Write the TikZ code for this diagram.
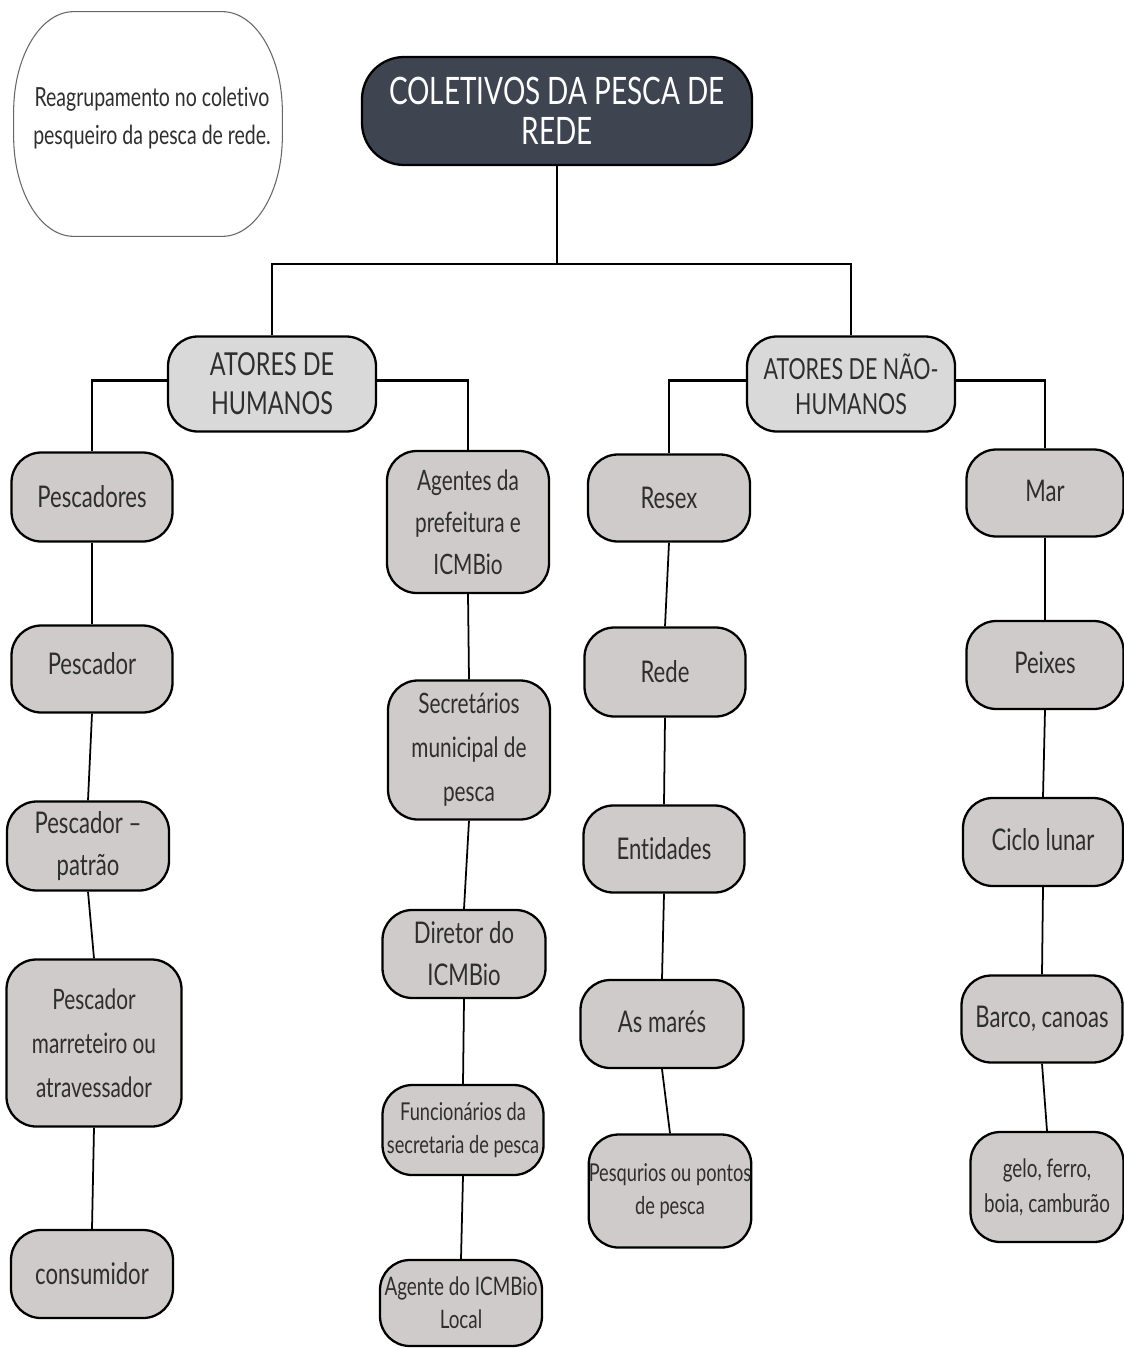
\documentclass[tikz,border=0pt]{standalone}
\usepackage{fontspec}
\setmainfont[FakeStretch=0.74, Ligatures=NoCommon]{Lato}
\usepackage{tikz}
\usetikzlibrary{positioning}

\definecolor{titlefill}{HTML}{3E4450}
\definecolor{actorfill}{HTML}{D9D9D9}
\definecolor{itemfill}{HTML}{CFCBCB}
\definecolor{itemtext}{HTML}{2E2E2E}

\tikzset{
    boxsize/.style 2 args={minimum width=#1*0.02cm, minimum height=#2*0.02cm},
    item/.style={draw, line width=1.3pt, fill=itemfill, text=itemtext, rounded corners=17pt,
        inner sep=0pt, align=center, font=\fontsize{17}{24}\selectfont},
    actor/.style={item, fill=actorfill, font=\fontsize{18}{22}\selectfont},
    small/.style={font=\fontsize{14}{19}\selectfont},
}

\begin{document}
\begin{tikzpicture}[x=0.02cm, y=-0.02cm]

\useasboundingbox (0,0) rectangle (1123,1348);

\node[boxsize={268}{224}] (note) at (148,124) {};
\path[draw=black!60, line width=0.6pt] ([xshift=1.2cm]note.north west) -- ([xshift=-1.2cm]note.north east)
    arc[start angle=90, end angle=0, x radius=1.2cm, y radius=2cm] -- ([yshift=2cm]note.south east)
    arc[start angle=0, end angle=-90, x radius=1.2cm, y radius=2cm] -- ([xshift=1.2cm]note.south west)
    arc[start angle=270, end angle=180, x radius=1.2cm, y radius=2cm] -- ([yshift=-2cm]note.north west)
    arc[start angle=180, end angle=90, x radius=1.2cm, y radius=2cm] -- cycle;
\node[align=center, text=itemtext, font=\fontsize{15}{22}\selectfont] (notetext) at (152,118)
    {Reagrupamento no coletivo\\pesqueiro da pesca de rede.};

\node[item, fill=titlefill, text=white, rounded corners=24pt, boxsize={390}{108},
    font=\fontsize{21.5}{23}\selectfont] (title) at (557,111) {COLETIVOS DA PESCA DE\\REDE};

\coordinate (bar) at (557,264);

\node[actor, boxsize={208}{95}] (hum) at (272,384) {ATORES DE\\HUMANOS};
\node[actor, boxsize={208}{95}, font=\fontsize{16.5}{20}\selectfont] (nhum) at (851,384) {ATORES DE NÃO-\\HUMANOS};

% atores humanos
\node[item, boxsize={161}{89}] (pescadores) at (92,497) {Pescadores};
\node[item, boxsize={161}{87}] (pescador) at (92,669) {\raisebox{6pt}{Pescador}};
\node[item, boxsize={162}{89}] (patrao) at (88,846) {Pescador --\\patrão};
\node[item, boxsize={175}{167}, font=\fontsize{16}{25}\selectfont] (marreteiro) at (94,1043) {Pescador\\marreteiro ou\\atravessador};
\node[item, boxsize={162}{88}] (consumidor) at (92,1274) {consumidor};

\node[item, boxsize={162}{142}, font=\fontsize{16}{24}\selectfont] (agentes) at (468,522) {Agentes da\\prefeitura e\\ICMBio};
\node[item, boxsize={162}{139}, font=\fontsize{16}{25}\selectfont] (secretarios) at (469,750) {Secretários\\municipal de\\pesca};
\node[item, boxsize={163}{88}] (diretor) at (464,954) {Diretor do\\ICMBio};
\node[item, small, boxsize={161}{90}] (funcionarios) at (463,1130) {Funcionários da\\secretaria de pesca};
\node[item, boxsize={162}{86}, font=\fontsize{14.5}{19}\selectfont] (agente) at (461,1303) {Agente do ICMBio\\Local};

% atores nao humanos
\node[item, boxsize={162}{87}] (resex) at (669,498) {Resex};
\node[item, boxsize={161}{89}] (rede) at (665,672) {Rede};
\node[item, boxsize={161}{87}] (entidades) at (664,849) {Entidades};
\node[item, boxsize={163}{88}] (mares) at (662,1024) {\raisebox{3pt}{As marés}};
\node[item, small, boxsize={162}{113}] (pesqueiros) at (670,1191) {Pesqurios ou pontos\\de pesca};

\node[item, boxsize={157}{87}] (mar) at (1045,493) {\raisebox{3pt}{Mar}};
\node[item, boxsize={157}{88}] (peixes) at (1045,665) {\raisebox{3pt}{Peixes}};
\node[item, boxsize={160}{88}] (ciclo) at (1043,842) {\raisebox{3pt}{Ciclo lunar}};
\node[item, boxsize={161}{87}] (barco) at (1042,1019) {\raisebox{3pt}{Barco, canoas}};
\node[item, font=\fontsize{14.5}{20}\selectfont, boxsize={153}{110}] (gelo) at (1047,1187) {gelo, ferro,\\boia, camburão};

\path[draw, line width=1.3pt] (title.south) -- (bar);
\path[draw, line width=1.3pt] (hum.north) |- (bar) -| (nhum.north);

\path[draw, line width=1.3pt] ([yshift=2pt]hum.west) -| (pescadores.north);
\path[draw, line width=1.3pt] ([yshift=2pt]hum.east) -| (agentes.north);
\path[draw, line width=1.3pt] ([yshift=2pt]nhum.west) -| (resex.north);
\path[draw, line width=1.3pt] ([yshift=2pt]nhum.east) -| (mar.north);

\foreach \a/\b in {pescadores/pescador, pescador/patrao, patrao/marreteiro, marreteiro/consumidor,
    agentes/secretarios, secretarios/diretor, diretor/funcionarios, funcionarios/agente,
    resex/rede, rede/entidades, entidades/mares, mares/pesqueiros,
    mar/peixes, peixes/ciclo, ciclo/barco, barco/gelo}
    \path[draw, line width=1pt] (\a.south) -- (\b.north);

\end{tikzpicture}
\end{document}
